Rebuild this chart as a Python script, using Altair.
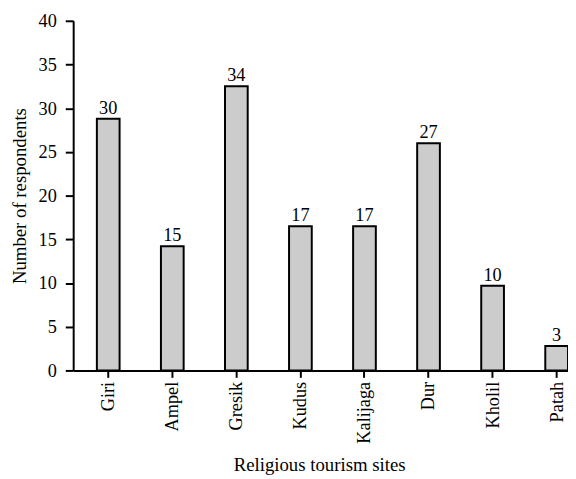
import altair as alt
import pandas as pd

sites = ["Giri", "Ampel", "Gresik", "Kudus", "Kalijaga", "Dur", "Kholil", "Patah"]
bar_heights = [28.8, 14.2, 32.5, 16.5, 16.5, 26.0, 9.7, 2.8]
label_values = [30, 15, 34, 17, 17, 27, 10, 3]

df = pd.DataFrame({"site": sites, "height": bar_heights, "label": [str(v) for v in label_values]})

FONT = "'Liberation Serif', 'Times New Roman', Times, serif"

x_enc = alt.X(
    "site:N",
    sort=sites,
    scale=alt.Scale(paddingInner=0.6454, paddingOuter=0.1849, align=1),
    axis=alt.Axis(
        title="Religious tourism sites",
        labelAngle=270,
        labelFont=FONT,
        labelFontSize=18.5,
        labelColor="black",
        labelPadding=4,
        tickSize=7,
        tickWidth=2,
        tickColor="black",
        domainColor="black",
        domainWidth=2,
        titleFont=FONT,
        titleFontSize=19,
        titleFontWeight="normal",
        titleColor="black",
        titleX=249,
        titleY=101,
        titleAlign="center",
        titleBaseline="alphabetic",
        grid=False,
    ),
)

y_enc = alt.Y(
    "height:Q",
    scale=alt.Scale(domain=[0, 40], nice=False),
    axis=alt.Axis(
        title="Number of respondents",
        values=[0, 5, 10, 15, 20, 25, 30, 35, 40],
        labelFont=FONT,
        labelFontSize=18.5,
        labelColor="black",
        labelPadding=9,
        tickSize=8,
        tickWidth=2,
        tickColor="black",
        domainColor="black",
        domainWidth=2,
        titleFont=FONT,
        titleFontSize=19,
        titleFontWeight="normal",
        titleColor="black",
        titleAngle=270,
        titleX=-48,
        titleY=177,
        titleAlign="center",
        titleBaseline="alphabetic",
        grid=False,
    ),
)

bars = alt.Chart(df).mark_bar(fill="#cccccc", stroke="black", strokeWidth=2).encode(x=x_enc, y=y_enc)

texts = alt.Chart(df).mark_text(
    font=FONT, fontSize=18.5, color="black", baseline="alphabetic", dy=-5
).encode(x=alt.X("site:N", sort=sites), y=alt.Y("height:Q"), text="label:N")

chart = (
    alt.layer(bars, texts)
    .properties(
        width=501,
        height=354,
        autosize=alt.AutoSizeParams(type="none"),
        padding={"left": 66, "top": 10, "right": 0, "bottom": 110},
    )
    .configure_view(stroke=None)
)

chart.save("out.html", embed_options={"renderer": "svg", "actions": False})
